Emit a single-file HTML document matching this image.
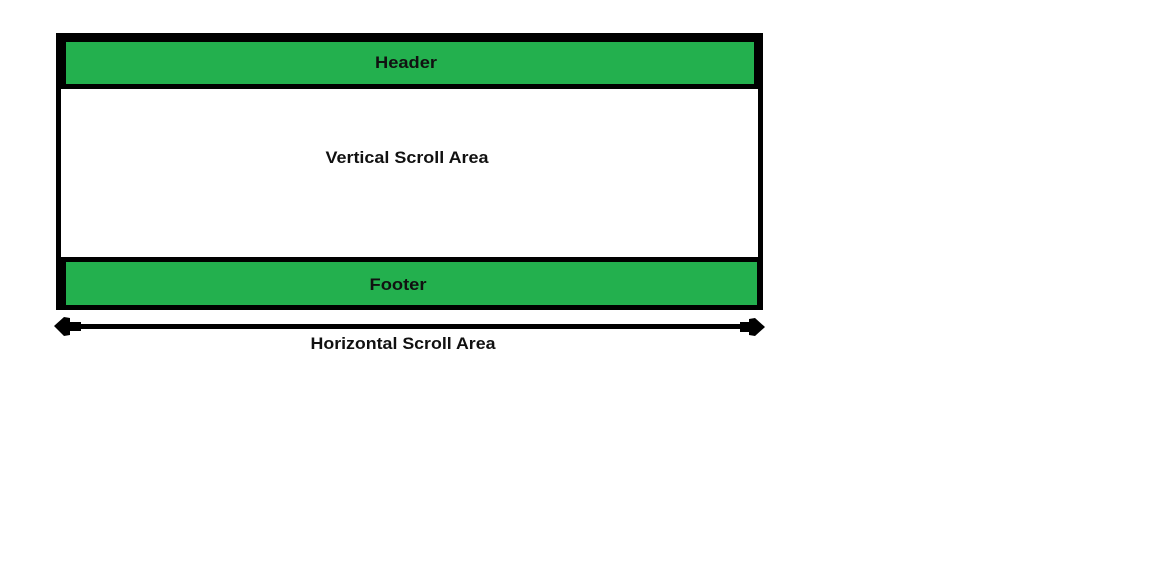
<!DOCTYPE html>
<html><head><meta charset="utf-8"><style>
html,body{margin:0;padding:0;background:#fff;width:1165px;height:588px;overflow:hidden}
text{font-family:"Liberation Sans",sans-serif;font-weight:bold;font-size:17px;fill:#111}
</style></head><body>
<svg width="1165" height="588" viewBox="0 0 1165 588">
<rect x="56" y="33" width="707" height="277" fill="#000"/>
<rect x="61" y="89" width="697" height="168" fill="#fff"/>
<rect x="66" y="42" width="688" height="42" fill="#23b04e"/>
<rect x="66" y="262" width="691" height="43" fill="#23b04e"/>
<text x="406" y="68" text-anchor="middle" textLength="62" lengthAdjust="spacingAndGlyphs">Header</text>
<text x="407" y="163" text-anchor="middle" textLength="163" lengthAdjust="spacingAndGlyphs">Vertical Scroll Area</text>
<text x="398" y="290" text-anchor="middle" textLength="57" lengthAdjust="spacingAndGlyphs">Footer</text>
<rect x="70" y="324" width="680" height="5" fill="#000"/>
<path d="M54,326 L64,317 L70,318 L70,322 L81,322 L81,331 L70,331 L70,335 L64,336 Z" fill="#000"/>
<path d="M765,327 L755,318 L749,319 L749,322 L740,322 L740,332 L749,332 L749,335 L755,336 Z" fill="#000"/>
<text x="403" y="349" text-anchor="middle" textLength="185" lengthAdjust="spacingAndGlyphs">Horizontal Scroll Area</text>
</svg>
</body></html>
